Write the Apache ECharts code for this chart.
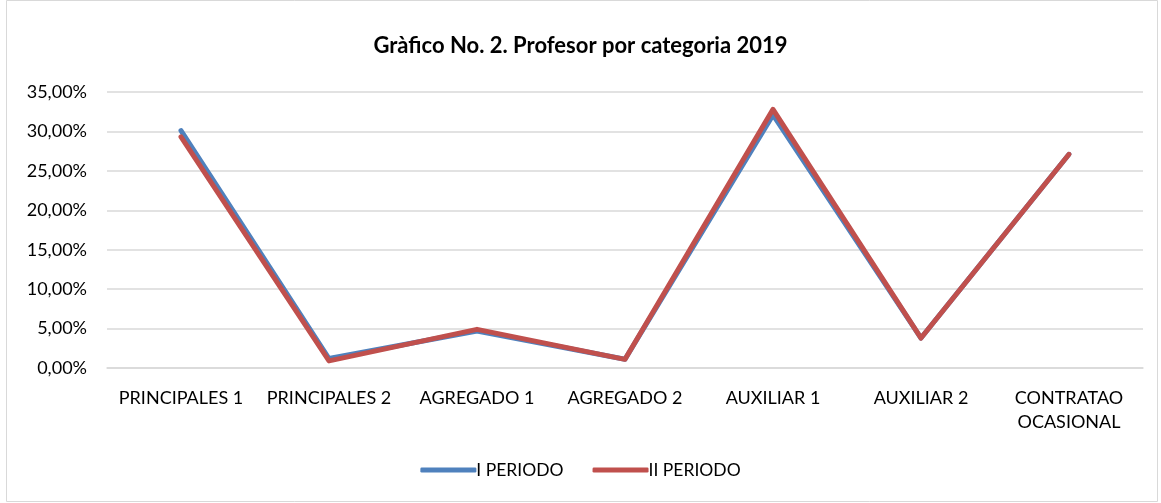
<!DOCTYPE html>
<html lang="es" style="height: 100%">
<head>
    <meta charset="utf-8">
</head>
<body style="height: 100%; margin: 0; background: #ffffff;">
    <div id="container" style="width: 1161px; height: 503px"></div>

    <script type="text/javascript" src="https://cdn.jsdelivr.net/npm/echarts@6/dist/echarts.min.js"></script>
    <script type="text/javascript">
        // datos del gráfico
        var categorias = ['PRINCIPALES 1', 'PRINCIPALES 2', 'AGREGADO 1', 'AGREGADO 2', 'AUXILIAR 1', 'AUXILIAR 2', 'CONTRATAO\nOCASIONAL'];
        var periodo1 = [0.301, 0.012, 0.047, 0.011, 0.321, 0.038, 0.271];
        var periodo2 = [0.293, 0.009, 0.049, 0.011, 0.328, 0.038, 0.271];
        var nombres = ['I PERIODO', 'II PERIODO'];

        var fuente = 'Lato, "Open Sans", sans-serif';

        var dom = document.getElementById('container');
        var myChart = echarts.init(dom, null, { renderer: 'canvas' });

        function pct(v) {
            return (v * 100).toFixed(2).replace('.', ',') + '%';
        }

        var option = {
            backgroundColor: '#ffffff',
            animation: false,
            textStyle: { fontFamily: fuente },
            graphic: [{
                type: 'rect',
                shape: { x: 6.5, y: 0.5, width: 1151, height: 501 },
                style: { fill: 'none', stroke: '#d9d9d9', lineWidth: 1 },
                silent: true
            }],
            title: {
                text: 'Gràfico No. 2. Profesor por categoria 2019',
                left: 'center',
                top: 30,
                textStyle: { fontFamily: fuente, fontSize: 22, fontWeight: 'bold', color: '#000000' }
            },
            legend: {
                bottom: 19,
                left: 'center',
                itemWidth: 56,
                itemHeight: 5,
                itemGap: 29,
                icon: 'roundRect',
                textStyle: { fontFamily: fuente, fontSize: 17.5, color: '#000000', padding: [0, 0, 0, -5] },
                data: nombres
            },
            grid: {
                left: 107,
                right: 18,
                top: 92,
                bottom: 135,
                containLabel: false
            },
            xAxis: {
                type: 'category',
                data: categorias,
                boundaryGap: true,
                axisLine: { show: true, lineStyle: { color: '#d9d9d9', width: 1.5 } },
                axisTick: { show: false },
                axisLabel: { fontFamily: fuente, fontSize: 18, color: '#000000', margin: 18, interval: 0, lineHeight: 24 }
            },
            yAxis: {
                type: 'value',
                min: 0,
                max: 0.35,
                interval: 0.05,
                axisLine: { show: false },
                axisTick: { show: false },
                splitLine: { lineStyle: { color: '#d9d9d9', width: 1.5 } },
                axisLabel: { fontFamily: fuente, fontSize: 18, color: '#000000', margin: 20, formatter: pct }
            },
            series: [{
                name: nombres[0],
                type: 'line',
                data: periodo1,
                symbol: 'none',
                lineStyle: { width: 5, color: '#4f81bd', cap: 'round', join: 'round' },
                itemStyle: { color: '#4f81bd' },
                z: 2
            }, {
                name: nombres[1],
                type: 'line',
                data: periodo2,
                symbol: 'none',
                lineStyle: { width: 5, color: '#c0504d', cap: 'round', join: 'round' },
                itemStyle: { color: '#c0504d' },
                z: 3
            }]
        };

        myChart.setOption(option);
        window.addEventListener('resize', myChart.resize);
    </script>
</body>
</html>
